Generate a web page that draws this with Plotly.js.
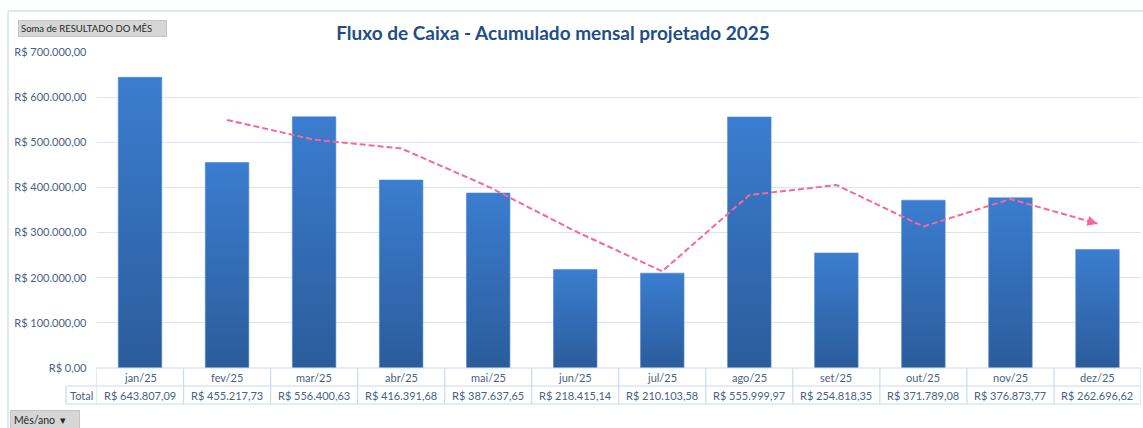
<!DOCTYPE html>
<html>
<head>
<meta charset="utf-8">
<script src="https://cdn.plot.ly/plotly-3.0.1.min.js"></script>
<style>
  html, body { margin: 0; padding: 0; background: #ffffff; }
  #chart { width: 1143px; height: 428px; }
</style>
</head>
<body>
<div id="chart"></div>
<script>
// ---- data ----
const months = ['jan/25','fev/25','mar/25','abr/25','mai/25','jun/25','jul/25','ago/25','set/25','out/25','nov/25','dez/25'];
const resultado = [643807.09, 455217.73, 556400.63, 416391.68, 387637.65, 218415.14, 210103.58, 555999.97, 254818.35, 371789.08, 376873.77, 262696.62];
// trendline (2-period moving average), fev..dez
const trendMonths = ['fev/25','mar/25','abr/25','mai/25','jun/25','jul/25','ago/25','set/25','out/25','nov/25','dez/25'];
const trendValues = [549500, 505800, 486400, 402000, 303000, 214300, 383100, 405400, 313300, 374300, 319800];
const yTicks = [0, 100000, 200000, 300000, 400000, 500000, 600000, 700000];
const titleText = 'Fluxo de Caixa - Acumulado mensal projetado 2025';
const fieldButton = 'Soma de RESULTADO DO MÊS';
const axisButton = 'Mês/ano  ▾';
const totalLabel = 'Total';

// ---- helpers ----
function brl(v) {
  const parts = v.toFixed(2).split('.');
  const intPart = parts[0].replace(/\B(?=(\d{3})+(?!\d))/g, '.');
  return 'R$ ' + intPart + ',' + parts[1];
}

// geometry (pixels)
const W = 1143, H = 428;
const M = { l: 66, r: 2, t: 52, b: 24 };
const PW = W - M.l - M.r, PH = H - M.t - M.b;
const px = x => (x - M.l) / PW;
const py = y => (H - M.b - y) / PH;

const textColor = '#4a5f85';
const gridColor = '#dbe5f1';
const tableLine = '#c9dbf0';
const trendColor = '#f7679d';
const font = 'Lato, sans-serif';

const xDomStart = px(96.5);
const yDomStart = py(368);

const bars = {
  type: 'bar',
  x: months,
  y: resultado,
  width: 0.5,
  marker: { color: '#3470bd', line: { color: '#4e89d2', width: 0.6 } },
  hoverinfo: 'skip',
  showlegend: false
};

const trend = {
  type: 'scatter',
  mode: 'lines',
  x: trendMonths,
  y: trendValues,
  line: { color: trendColor, width: 2, dash: '6px,3px' },
  hoverinfo: 'skip',
  showlegend: false
};

const lastIdx = trendValues.length - 1;

// ---- data table under the plot (borders + texts) ----
const rowTop = py(368), rowMid = py(386), rowBot = py(404);
const tableShapes = [];
const tline = (xref, x0, x1, y0, y1) => ({ type: 'line', xref: xref, yref: 'paper', x0: x0, x1: x1, y0: y0, y1: y1,
  line: { color: tableLine, width: 1.2 }, layer: 'above' });
tableShapes.push(tline('paper', xDomStart, 1, rowTop, rowTop));
tableShapes.push(tline('paper', 0, 1, rowMid, rowMid));
tableShapes.push(tline('paper', 0, 1, rowBot, rowBot));
tableShapes.push(tline('paper', 0, 0, rowMid, rowBot));
for (let i = 0; i <= months.length; i++) {
  tableShapes.push(tline('x', i - 0.5, i - 0.5, rowTop, rowBot));
}
const tableAnnots = [];
months.forEach((m, i) => {
  tableAnnots.push({ xref: 'x', yref: 'paper', x: m, y: py(377), text: m, showarrow: false,
    xanchor: 'center', yanchor: 'middle', font: { family: font, size: 11, color: textColor } });
  tableAnnots.push({ xref: 'x', yref: 'paper', x: m, y: py(395), text: brl(resultado[i]), showarrow: false,
    xanchor: 'center', yanchor: 'middle', font: { family: font, size: 11, color: textColor } });
});
tableAnnots.push({ xref: 'paper', yref: 'paper', x: px(81.5), y: py(395), text: totalLabel, showarrow: false,
  xanchor: 'center', yanchor: 'middle', font: { family: font, size: 11, color: textColor } });

const layout = {
  width: W, height: H,
  margin: M,
  paper_bgcolor: '#ffffff',
  plot_bgcolor: '#ffffff',
  separators: ',.',
  font: { family: font, size: 11, color: textColor },
  showlegend: false,
  title: {
    text: '<b>' + titleText + '</b>',
    x: px(553), xref: 'paper', xanchor: 'center',
    y: 1 - 33 / H, yref: 'container', yanchor: 'middle',
    font: { family: font, size: 19, color: '#1f4e86' }
  },
  xaxis: {
    domain: [xDomStart, 1],
    type: 'category',
    categoryorder: 'array', categoryarray: months,
    range: [-0.5, months.length - 0.5],
    showticklabels: false, showgrid: false, zeroline: false, showline: false, ticks: ''
  },
  yaxis: {
    domain: [yDomStart, 1],
    range: [0, 700000],
    tickmode: 'array',
    tickvals: yTicks,
    ticktext: yTicks.map(brl),
    ticks: '',
    ticklabelstandoff: 9,
    showgrid: true, gridcolor: gridColor, gridwidth: 1,
    zeroline: false, showline: false,
    tickfont: { family: font, size: 11, color: textColor }
  },
  shapes: [
    { type: 'line', xref: 'paper', yref: 'paper', x0: px(8), x1: px(1143), y0: py(11), y1: py(11),
      line: { color: '#d3dfee', width: 1.5 } },
    { type: 'line', xref: 'paper', yref: 'paper', x0: px(8), x1: px(8), y0: py(11), y1: py(428),
      line: { color: '#d3dfee', width: 1.5 } }
  ].concat(tableShapes),
  annotations: [
    { xref: 'x', yref: 'y', x: trendMonths[lastIdx], y: trendValues[lastIdx],
      ax: -12, ay: -3.4, axref: 'pixel', ayref: 'pixel',
      text: '', showarrow: true, arrowhead: 2, arrowsize: 1, arrowwidth: 2, arrowcolor: trendColor },
    { xref: 'paper', yref: 'paper', x: px(18), y: py(28), xanchor: 'left', yanchor: 'middle',
      text: fieldButton, showarrow: false, align: 'left',
      font: { family: font, size: 9.5, color: '#262626' },
      bgcolor: '#d6d6d6', bordercolor: '#c4c4c4', borderwidth: 1, borderpad: 2, width: 143 },
    { xref: 'paper', yref: 'paper', x: px(10), y: py(420), xanchor: 'left', yanchor: 'middle',
      text: axisButton, showarrow: false, align: 'left',
      font: { family: font, size: 10.5, color: '#262626' },
      bgcolor: '#d6d6d6', bordercolor: '#c4c4c4', borderwidth: 1, borderpad: 3, width: 62 }
  ].concat(tableAnnots)
};

function applyGradient() {
  const gd = document.getElementById('chart');
  const svg = gd.querySelector('svg.main-svg');
  if (!svg) return;
  let defs = svg.querySelector('defs');
  if (!defs) { defs = document.createElementNS('http://www.w3.org/2000/svg', 'defs'); svg.insertBefore(defs, svg.firstChild); }
  if (!svg.querySelector('#barGrad')) {
    const lg = document.createElementNS('http://www.w3.org/2000/svg', 'linearGradient');
    lg.setAttribute('id', 'barGrad');
    lg.setAttribute('x1', '0'); lg.setAttribute('y1', '0');
    lg.setAttribute('x2', '0'); lg.setAttribute('y2', '1');
    [['0%', '#3b7dd0'], ['100%', '#2b5c9b']].forEach(([o, c]) => {
      const s = document.createElementNS('http://www.w3.org/2000/svg', 'stop');
      s.setAttribute('offset', o); s.setAttribute('stop-color', c);
      lg.appendChild(s);
    });
    defs.appendChild(lg);
  }
  gd.querySelectorAll('.barlayer .point path').forEach(p => { p.style.fill = 'url(#barGrad)'; });
}

Plotly.newPlot('chart', [bars, trend], layout, { displayModeBar: false, staticPlot: true })
  .then(gd => { applyGradient(); gd.on('plotly_afterplot', applyGradient); });
</script>
</body>
</html>
